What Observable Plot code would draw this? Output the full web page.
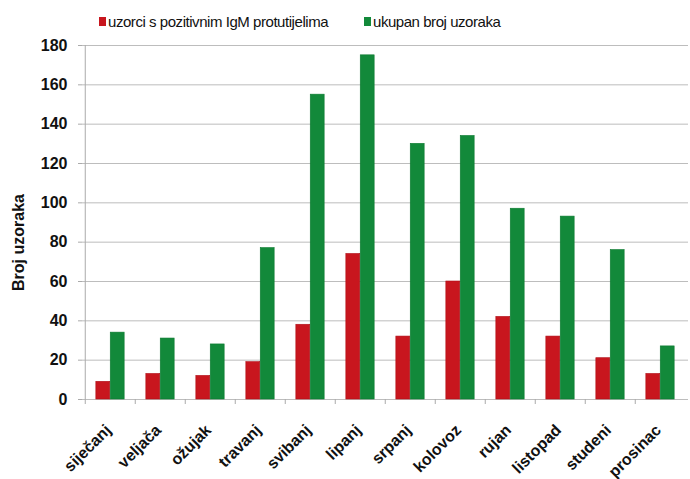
<!DOCTYPE html>
<html>
<head>
<meta charset="utf-8">
<script src="https://cdn.jsdelivr.net/npm/d3@7"></script>
<script src="https://cdn.jsdelivr.net/npm/@observablehq/plot@0.6"></script>
<style>
  body { margin: 0; background: #fff; font-family: "Liberation Sans", Arial, sans-serif; }
  #legend { position: relative; height: 32px; width: 690px; font-size: 15px; letter-spacing: -0.45px; color: #111; }
  .item { position: absolute; top: 13px; display: flex; align-items: center; white-space: nowrap; }
  .sw { width: 7px; height: 9px; margin-right: 2px; display: inline-block; }
</style>
</head>
<body>
<div id="legend"></div>
<div id="chart"></div>
<script>
const months = ["siječanj","veljača","ožujak","travanj","svibanj","lipanj","srpanj","kolovoz","rujan","listopad","studeni","prosinac"];
const positive = [9, 13, 12, 19, 38, 74, 32, 60, 42, 32, 21, 13];
const total = [34, 31, 28, 77, 155, 175, 130, 134, 97, 93, 76, 27];
const seriesNames = ["uzorci s pozitivnim IgM protutijelima", "ukupan broj uzoraka"];
const seriesColors = ["#c8161e", "#12893a"];
const yTicks = [0, 20, 40, 60, 80, 100, 120, 140, 160, 180];
const yTitle = "Broj uzoraka";

const legend = document.getElementById("legend");
const legendX = [99, 364];
seriesNames.forEach((n, i) => {
  const it = document.createElement("div");
  it.className = "item";
  it.style.left = legendX[i] + "px";
  it.innerHTML = `<span class="sw" style="background:${seriesColors[i]}"></span><span>${n}</span>`;
  legend.appendChild(it);
});

const W = 690, H = 447, mL = 82, mR = 2, mT = 13, mB = 80;
const bw = (W - mL - mR) / months.length;
const barW = 14.4;
const side = (bw - 2 * barW) / 2;

const rows = months.map((m, i) => ({month: m, pos: positive[i], tot: total[i]}));

const chart = Plot.plot({
  width: W, height: H,
  marginLeft: mL, marginRight: mR, marginTop: mT, marginBottom: mB,
  style: {fontFamily: "Liberation Sans, Arial, sans-serif", color: "#111"},
  x: {domain: months, padding: 0, axis: null, label: null},
  y: {domain: [0, 180], axis: null},
  marks: [
    Plot.gridY(yTicks, {stroke: "#bdbdbd", strokeOpacity: 1}),
    Plot.ruleX([months[0]], {dx: -bw / 2, stroke: "#aaa"}),
    Plot.barY(rows, {x: "month", y: "pos", fill: seriesColors[0], insetLeft: side, insetRight: side + barW, stroke: "#b01018", strokeWidth: 0.6}),
    Plot.barY(rows, {x: "month", y: "tot", fill: seriesColors[1], insetLeft: side + barW, insetRight: side, stroke: "#0c7a30", strokeWidth: 0.6}),
    Plot.axisX({tickSize: 5, tickFormat: () => "", dx: -bw / 2, stroke: "#aaa", label: null}),
    Plot.axisX({tickSize: 0, tickRotate: -45, tickPadding: 28, fontSize: 16, fontWeight: "bold", label: null, dx: -2}),
    Plot.axisY(yTicks, {tickSize: 4, tickPadding: 11, fontSize: 16, fontWeight: "bold", stroke: "#aaa", label: null}),
    Plot.text([yTitle], {frameAnchor: "left", textAnchor: "middle", rotate: -90, dx: -64, dy: 20, fontSize: 16, fontWeight: "bold", fill: "#111"}),
  ]
});
document.getElementById("chart").appendChild(chart);
</script>
</body>
</html>
